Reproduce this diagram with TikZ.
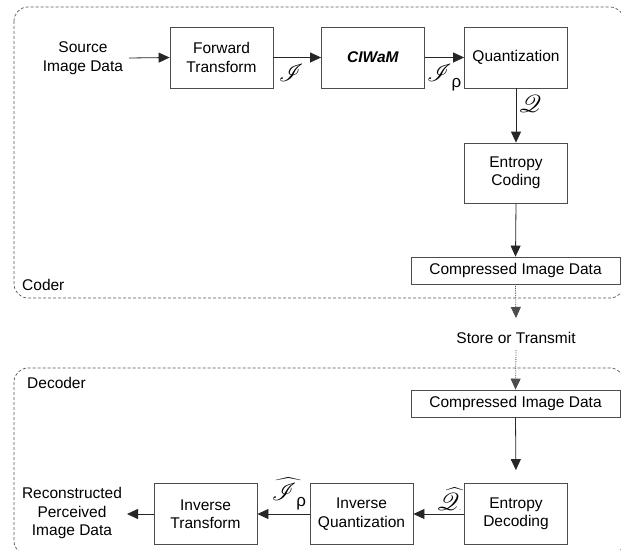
\documentclass[tikz,border=0pt]{standalone}
\usepackage{fontspec}
\setmainfont{Liberation Sans}
\usepackage{mathrsfs}
\usepackage{graphicx}
\usetikzlibrary{arrows.meta}
\newcommand{\bigscr}[1]{\scalebox{1.7}{$\mathscr{#1}$}}
\begin{document}
\begin{tikzpicture}[x=1pt,y=-1pt,
  every node/.style={font=\fontsize{15.5}{18.5}\selectfont},
  blk/.style={draw=black!70, line width=0.8pt, minimum width=103pt, minimum height=61pt, align=center, inner sep=0pt},
  wide/.style={draw=black!70, line width=0.8pt, minimum width=209pt, minimum height=27pt, inner sep=0pt},
  txt/.style={align=center, inner sep=0pt},
  lbl/.style={inner sep=0pt},
  arr/.style={-{Triangle[length=11pt,width=10pt]}, line width=0.8pt, black!85},
  dotarr/.style={-{Triangle[length=11pt,width=10pt]}, line width=0.8pt, black!70, densely dotted},
  grp/.style={draw=black!65, line width=0.7pt, densely dashed, rounded corners=14pt}]
\useasboundingbox (0,0) rectangle (621,551);
\clip (0,0) rectangle (621,551);
% group frames
\draw[grp] (14,7) rectangle (624,298);
\draw[grp] (14,368) rectangle (624,555);
\node[lbl, anchor=west] (coder) at (22,285) {Coder};
\node[lbl, anchor=west] (decoder) at (27,383) {Decoder};
% coder
\node[txt] (src) at (83,58) {Source\\Image Data};
\node[blk] (ft) at (221.5,57.5) {Forward\\Transform};
\node[blk] (ciwam) at (373,57.5) {\textbf{\itshape CIWaM}};
\node[blk] (qz) at (516,57.5) {Quantization};
\node[blk, minimum height=60pt] (ec) at (516,173) {Entropy\\Coding};
\node[wide] (c1) at (515.5,270.5) {Compressed Image Data};
\node[txt] (st) at (516,338) {Store or Transmit};
\node[wide] (c2) at (515.5,403.5) {Compressed Image Data};
% decoder
\node[blk] (ed) at (516,514) {Entropy\\Decoding};
\node[blk] (iq) at (361.5,514) {Inverse\\Quantization};
\node[blk] (it) at (205.5,514) {Inverse\\Transform};
\node[txt] (rec) at (72,513) {Reconstructed\\Perceived\\Image Data};
% connectors
\coordinate (s0) at (129,58);
\coordinate (r0) at (127,514);
\coordinate (st1) at (516,318);
\coordinate (st2) at (516,350);
\draw[arr] (s0) -- (ft.west);
\draw[arr] (ft.east) -- (ciwam.west);
\draw[arr] (ciwam.east) -- (qz.west);
\draw[arr] (qz.south) -- (ec.north);
\draw[arr] (ec.south) -- (c1.north);
\draw[dotarr] (c1.south) -- (st1);
\draw[dotarr] (st2) -- (c2.north);
\draw[arr, shorten >=13pt] (c2.south) -- (ed.north);
\draw[arr] (ed.west) -- (iq.east);
\draw[arr] (iq.west) -- (it.east);
\draw[arr] (it.west) -- (r0);
% labels
\node[lbl] (l1) at (291,73) {\bigscr{I}};
\node[lbl, anchor=west] (l2) at (427,78) {\bigscr{I}\raisebox{-6pt}{\fontsize{17}{17}\selectfont ρ}};
\node[lbl] (l3) at (530,104) {\bigscr{Q}};
\node[lbl] (l4) at (449,499) {\scalebox{1.7}{$\widehat{\mathscr{Q}}$}\raisebox{0pt}{\fontsize{6}{6}\selectfont .}};
\node[lbl] (l5) at (289,494) {\scalebox{1.7}{$\widehat{\mathscr{I}\mbox{\raisebox{-3.5pt}{\fontsize{10}{10}\selectfont ρ}}}$}};
\end{tikzpicture}
\end{document}
